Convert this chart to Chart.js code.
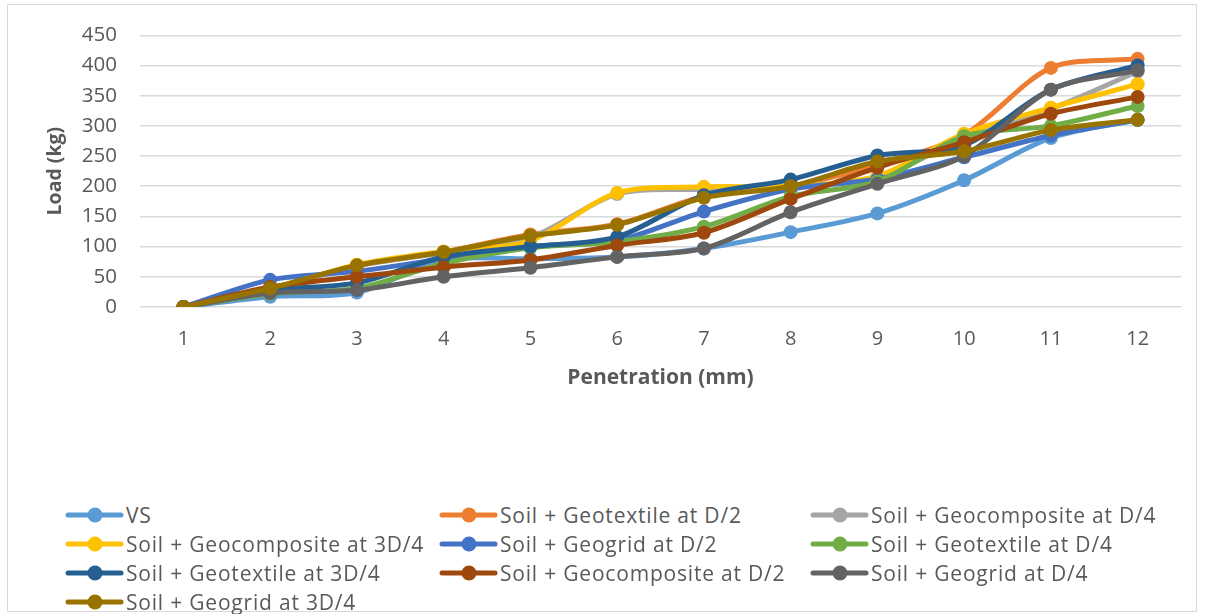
<!DOCTYPE html>
<html>
<head>
<meta charset="utf-8">
<script src="https://cdn.jsdelivr.net/npm/chart.js@4.4.1/dist/chart.umd.min.js"></script>
<style>
  html, body { margin: 0; padding: 0; background: #fff; }
  #frame {
    position: absolute; left: 7px; top: 4px; width: 1190px; height: 608px;
    border: 1px solid #d9d9d9; box-sizing: border-box;
  }
  #wrap { position: absolute; left: 0; top: 0; width: 1205px; height: 395px; }
  #legend {
    position: absolute; left: 64px; top: 500px; width: 1130px;
    display: grid; grid-template-columns: 374px 371px 360px; grid-auto-rows: 29px;
    font-family: "Open Sans", Lato, sans-serif; font-size: 21px; letter-spacing: 0.8px; color: #595959;
  }
  .item { display: flex; align-items: center; white-space: nowrap; }
  .item canvas { margin-right: 2px; }
</style>
</head>
<body>
<div id="frame"></div>
<div id="wrap"><canvas id="c"></canvas></div>
<div id="legend"></div>
<script>
// Penetration (mm) on the x axis
const penetration = [1, 2, 3, 4, 5, 6, 7, 8, 9, 10, 11, 12];

// Load (kg) for each soil configuration
const vs                = [0, 17, 24, 78, 80, 83, 97, 124, 155, 210, 280, 310];
const geotextileHalf    = [0, 31, 68, 91, 120, 137, 183, 200, 236, 285, 396, 411];
const geocompQuarter    = [0, 30, 68, 90, 115, 187, 195, 200, 214, 280, 328, 390];
const geocompThreeQ     = [0, 30, 70, 92, 110, 189, 199, 200, 217, 287, 330, 369];
const geogridHalf       = [0, 45, 59, 80, 100, 110, 158, 195, 212, 248, 284, 310];
const geotextileQuarter = [0, 22, 31, 72, 98, 108, 133, 183, 208, 283, 300, 333];
const geotextileThreeQ  = [0, 28, 40, 83, 100, 116, 185, 211, 251, 268, 360, 400];
const geocompHalf       = [0, 33, 50, 66, 78, 102, 123, 179, 231, 273, 320, 348];
const geogridQuarter    = [0, 23, 28, 50, 65, 83, 97, 157, 204, 250, 360, 392];
const geogridThreeQ     = [0, 31, 69, 91, 118, 136, 181, 200, 241, 258, 293, 310];

const seriesNames = [
  'VS', 'Soil + Geotextile at D/2', 'Soil + Geocomposite at D/4',
  'Soil + Geocomposite at 3D/4', 'Soil + Geogrid at D/2', 'Soil + Geotextile at D/4',
  'Soil + Geotextile at 3D/4', 'Soil + Geocomposite at D/2', 'Soil + Geogrid at D/4',
  'Soil + Geogrid at 3D/4'
];
const seriesValues = [
  vs, geotextileHalf, geocompQuarter, geocompThreeQ, geogridHalf,
  geotextileQuarter, geotextileThreeQ, geocompHalf, geogridQuarter, geogridThreeQ
];
const seriesColors = [
  '#5B9BD5', '#ED7D31', '#A5A5A5', '#FFC000', '#4472C4',
  '#70AD47', '#255E91', '#9E480E', '#636363', '#997300'
];

const yTicks = [0, 50, 100, 150, 200, 250, 300, 350, 400, 450];

// later series are painted over earlier ones
const datasets = seriesNames.map((name, i) => ({
  label: name,
  data: seriesValues[i],
  order: seriesNames.length - i,
  borderColor: seriesColors[i],
  backgroundColor: seriesColors[i],
  pointBackgroundColor: seriesColors[i],
  pointBorderColor: seriesColors[i],
  borderWidth: 5,
  pointRadius: 7,
  pointBorderWidth: 0,
  tension: 0.3,
  fill: false
}));

const font = '"Open Sans", Lato, sans-serif';
const ctx = document.getElementById('c');
const chart = new Chart(ctx, {
  type: 'line',
  data: { labels: penetration, datasets },
  options: {
    responsive: true,
    maintainAspectRatio: false,
    animation: false,
    layout: { padding: { left: 0, right: 24, top: 33, bottom: 0 } },
    plugins: { legend: { display: false }, tooltip: { enabled: false } },
    scales: {
      x: {
        offset: true,
        grid: { display: false, drawTicks: false },
        border: { display: false },
        ticks: { color: '#595959', font: { family: font, size: 20 }, padding: 20 },
        title: {
          display: true, text: 'Penetration (mm)', color: '#595959',
          font: { family: font, size: 21, weight: 'bold' }, padding: { top: 4, bottom: 4 }
        },
        afterFit(scale) { scale.height = 88; }
      },
      y: {
        min: 0, max: 450,
        afterBuildTicks(scale) { scale.ticks = yTicks.map(v => ({ value: v })); },
        grid: { color: '#d9d9d9', lineWidth: 1.5, drawTicks: false },
        border: { display: false },
        ticks: { color: '#595959', font: { family: font, size: 20.5 }, padding: 23 },
        title: {
          display: true, text: 'Load (kg)', color: '#595959',
          font: { family: font, size: 19.5, weight: 'bold' }, padding: { top: 44, bottom: 0 }
        },
        afterFit(scale) { scale.width = 140; }
      }
    }
  }
});

// Three-column legend built from the chart's datasets
const legend = document.getElementById('legend');
seriesNames.forEach((name, i) => {
  const item = document.createElement('div');
  item.className = 'item';
  const sw = document.createElement('canvas');
  sw.width = 60; sw.height = 20;
  const g = sw.getContext('2d');
  g.strokeStyle = seriesColors[i]; g.lineWidth = 5; g.lineCap = 'round';
  g.beginPath(); g.moveTo(4, 10); g.lineTo(57, 10); g.stroke();
  g.fillStyle = seriesColors[i];
  g.beginPath(); g.arc(31, 10, 7.5, 0, Math.PI * 2); g.fill();
  item.appendChild(sw);
  const t = document.createElement('span');
  t.textContent = name;
  item.appendChild(t);
  legend.appendChild(item);
});
</script>
</body>
</html>
